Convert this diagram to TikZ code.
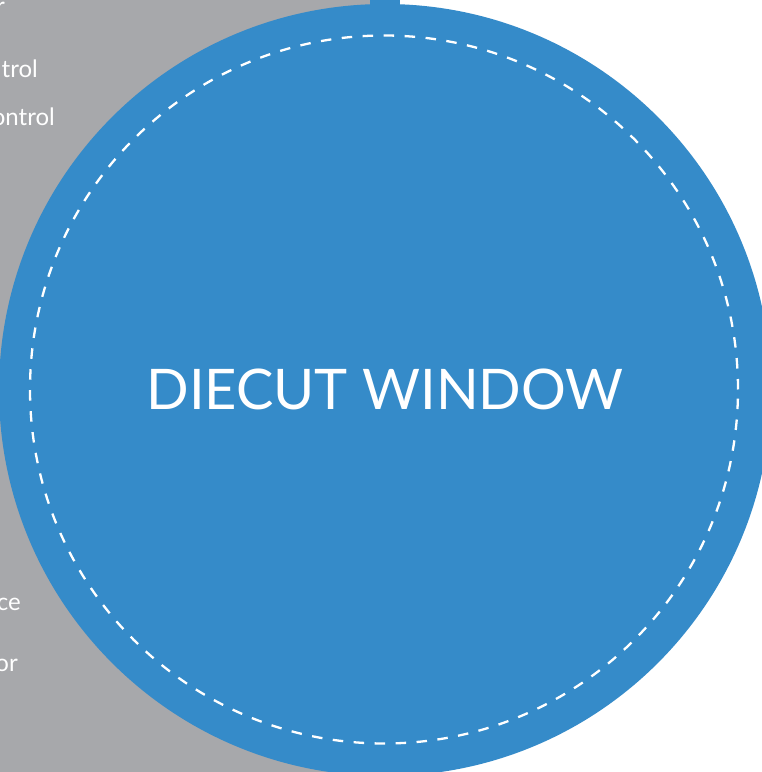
\documentclass[tikz,border=0pt]{standalone}
\usepackage{fontspec}
\setmainfont{Lato}
\definecolor{diecutblue}{HTML}{358BC9}
\definecolor{panelgrey}{HTML}{A7A8AB}
\begin{document}
\begin{tikzpicture}[x=1pt,y=1pt,
  sidetext/.style={text=white, font=\fontsize{24}{28}\selectfont, anchor=base east, inner sep=0pt},
  titletext/.style={text=white, font=\fontsize{56}{64}\selectfont, anchor=base, inner sep=0pt}]
\useasboundingbox (0,0) rectangle (762,772);
\fill[white] (0,0) rectangle (762,772);
% grey panel
\fill[panelgrey] (0,0) rectangle (370,772);
\node[sidetext] (t1) at (5,757) {r};
\node[sidetext] (t2) at (38,694) {trol};
\node[sidetext] (t3) at (55,646) {ontrol};
\node[sidetext] (t4) at (21,161) {ce};
\node[sidetext] (t5) at (18,100) {or};
% tab
\fill[diecutblue] (370,772) rectangle (400,755);
% window
\fill[diecutblue] (385,382) circle[radius=386];
\draw[white, line width=2.3pt, dash pattern=on 10.5pt off 10.5pt] (384,382.5) circle[radius=354];
\node[titletext] (title) at (385,362) {DIECUT WINDOW};
\end{tikzpicture}
\end{document}
